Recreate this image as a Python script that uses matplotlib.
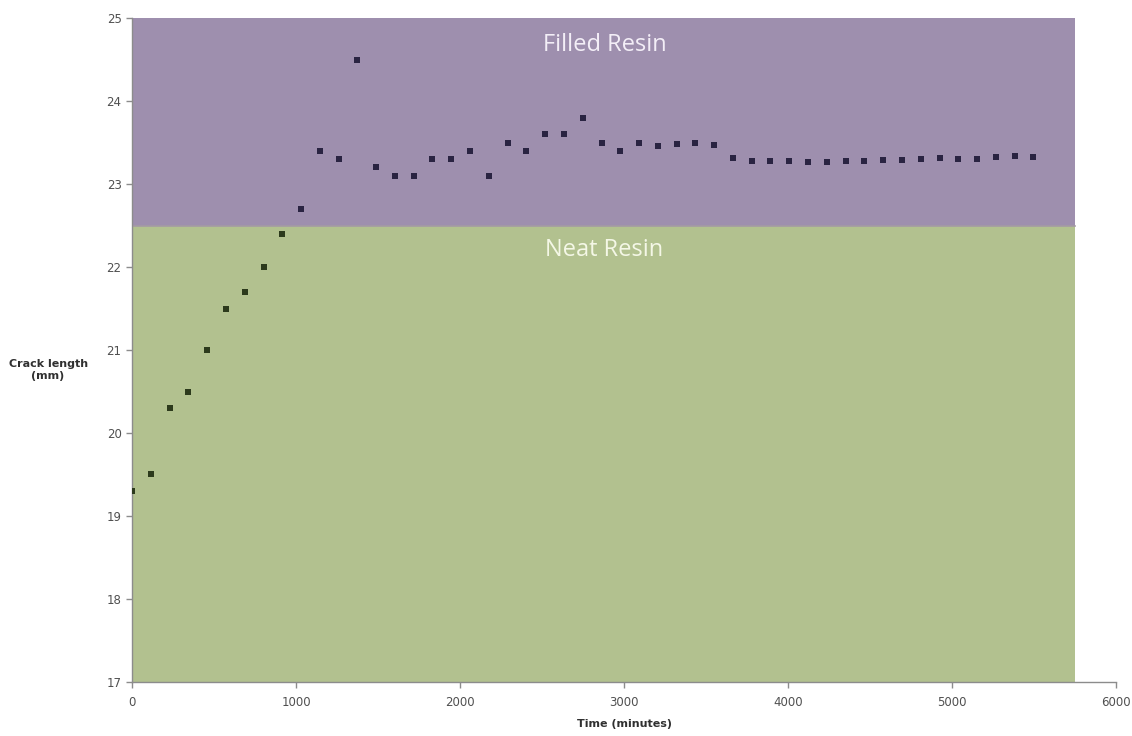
import matplotlib.pyplot as plt
import numpy as np

# Messdaten: Zeit (min) und Risslänge (mm)
time_min = [0, 115, 229, 344, 458, 573, 687, 802, 916, 1031,
            1145, 1260, 1374, 1489, 1603, 1718, 1832, 1947, 2061, 2176,
            2290, 2405, 2519, 2634, 2748, 2863, 2977, 3092, 3206, 3321,
            3435, 3550, 3664, 3779, 3893, 4008, 4122, 4237, 4351, 4466,
            4580, 4695, 4809, 4924, 5038, 5153, 5267, 5382, 5496]
crack_mm = [19.3, 19.5, 20.3, 20.5, 21.0, 21.5, 21.7, 22.0, 22.4, 22.7,
            23.4, 23.3, 24.5, 23.2, 23.1, 23.1, 23.3, 23.3, 23.4, 23.1,
            23.5, 23.4, 23.6, 23.6, 23.8, 23.5, 23.4, 23.5, 23.46, 23.48,
            23.5, 23.47, 23.31, 23.28, 23.28, 23.28, 23.26, 23.27, 23.28, 23.28,
            23.29, 23.29, 23.3, 23.31, 23.3, 23.3, 23.32, 23.34, 23.33]

# Bereiche (Harz-Typen)
regions = ["Neat Resin", "Filled Resin"]
region_end = 5750

x = np.array(time_min)
y = np.array(crack_mm)

fig = plt.figure(figsize=(11.32, 7.36), dpi=100)
ax = fig.add_axes([0.1166, 0.0734, 0.8693, 0.9021])

# Hintergrundflächen
ax.fill_between([0, region_end], 17, 22.5, color="#b2c18f", zorder=0, linewidth=0)
ax.fill_between([0, region_end], 22.5, 25, color="#9e8fae", zorder=0, linewidth=0)
ax.plot([0, region_end], [22.5, 22.5], color="#a49aa4", linewidth=1.2, zorder=1)

# Punkte (Farbe je nach Hintergrund)
upper = y > 22.5
ax.scatter(x[upper], y[upper], marker="s", s=24, color="#2a2442", zorder=3, linewidths=0)
ax.scatter(x[~upper], y[~upper], marker="s", s=24, color="#2c3a1c", zorder=3, linewidths=0)

# Beschriftung der Bereiche
ax.text(2880, 24.67, regions[1], color="#f3eef7", fontsize=17, family="Open Sans",
        ha="center", va="center", zorder=4)
ax.text(2880, 22.2, regions[0], color="#f4f7e6", fontsize=17, family="Open Sans",
        ha="center", va="center", zorder=4)

ax.set_xlim(0, 6000)
ax.set_ylim(17, 25)
ax.set_xticks(range(0, 6001, 1000))
ax.set_yticks(range(17, 26))

for side in ["top", "right"]:
    ax.spines[side].set_visible(False)
for side in ["left", "bottom"]:
    ax.spines[side].set_color("#8c8c8c")
    ax.spines[side].set_linewidth(1)
ax.tick_params(colors="#8c8c8c", labelcolor="#505050", labelsize=8.5, length=4, width=1)
ax.tick_params(axis="x", pad=6)

ax.set_xlabel("Time (minutes)", fontsize=8, fontweight="bold", color="#303030", labelpad=7)
fig.text(0.0425, 0.497, "Crack length\n(mm)", fontsize=8, fontweight="bold",
         color="#303030", ha="center", va="center")

fig.savefig("out.png", dpi=100)
